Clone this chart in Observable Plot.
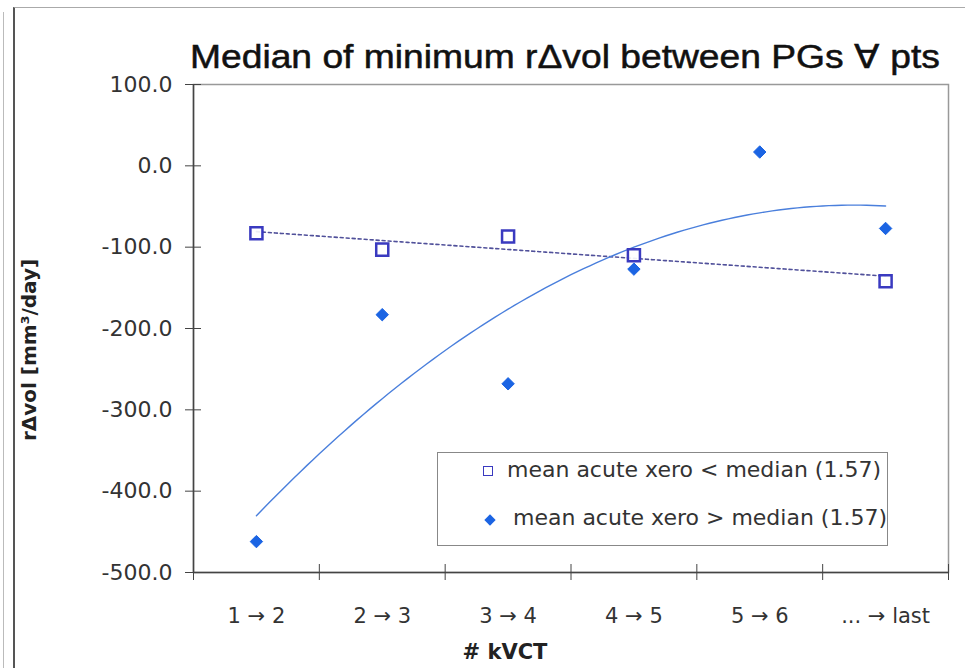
<!DOCTYPE html>
<html><head><meta charset="utf-8">
<script src="https://cdn.jsdelivr.net/npm/d3@7"></script>
<script src="https://cdn.jsdelivr.net/npm/@observablehq/plot@0.6"></script>
<style>
body{margin:0;background:#fff;font-family:"DejaVu Sans",Verdana,sans-serif;color:#222;}
#wrap{position:relative;width:965px;height:668px;overflow:hidden;background:#fff;}
#edge1{position:absolute;left:3px;top:12px;width:0;height:660px;border-left:1px solid #bbb;}
#edge2{position:absolute;left:13px;top:7px;width:960px;height:670px;border-left:2px solid #555;border-top:1px solid #aaa;}
#title{position:absolute;left:190px;top:40px;font-family:"Liberation Sans",Arial,sans-serif;font-size:33px;line-height:1;white-space:nowrap;color:#111;transform-origin:left top;-webkit-text-stroke:0.5px #111;}
#chart{position:absolute;left:0;top:70px;}
#ylabel{position:absolute;left:29px;top:350px;transform:translate(-50%,-50%) rotate(-90deg);font-weight:bold;font-size:20px;line-height:1;white-space:nowrap;color:#222;}
#xlabel{position:absolute;left:505px;top:652px;transform:translate(-50%,-50%);font-weight:bold;font-size:21px;line-height:1;white-space:nowrap;color:#222;}
#legend{position:absolute;left:437px;top:452px;width:449px;height:92px;border:1.5px solid #888;background:#fff;font-size:22px;line-height:1;color:#333;}
.item{position:absolute;white-space:nowrap;}
.sq{position:absolute;width:8px;height:8px;border:1.5px solid #3a3ac0;background:#fff;}
.dm{position:absolute;width:8px;height:8px;background:#1b64e3;transform:rotate(45deg);}
</style></head><body>
<div id="wrap">
  <div id="edge1"></div><div id="edge2"></div>
  <div id="title">Median of minimum rΔvol between PGs ∀ pts</div>
  <div id="chart"></div>
  <div id="ylabel">rΔvol [mm³/day]</div>
  <div id="xlabel"># kVCT</div>
  <div id="legend">
    <div class="sq" style="left:45px;top:13px;"></div>
    <div class="item" style="left:69px;top:6px;">mean acute xero &lt; median (1.57)</div>
    <div class="dm" style="left:48px;top:63px;"></div>
    <div class="item" style="left:75px;top:54px;">mean acute xero &gt; median (1.57)</div>
  </div>
</div>
<script>
// ---- data ----
const categories = ["1 → 2", "2 → 3", "3 → 4", "4 → 5", "5 → 6", "... → last"];
const belowMedian = [-83, -103, -87, -110, null, -142];   // hollow squares
const aboveMedian = [-462, -183, -268, -127, 17, -77];    // filled diamonds
const yTicks = [100, 0, -100, -200, -300, -400, -500];
const yDomain = [-500, 100];

// ---- build tables ----
const idx = categories.map((c, i) => i + 1);
const xDomain = [0.5, categories.length + 0.5];
const bounds = d3.range(xDomain[0], xDomain[1] + 0.01, 1);
const sqData = idx.map((x, i) => ({x, y: belowMedian[i]})).filter(d => d.y != null);
const dmData = idx.map((x, i) => ({x, y: aboveMedian[i]}));

// least-squares polynomial fit (trend lines like the spreadsheet's)
function polyfit(pts, deg) {
  const n = deg + 1;
  const A = Array.from({length: n}, () => Array(n + 1).fill(0));
  for (const {x, y} of pts) {
    for (let r = 0; r < n; r++) {
      for (let c = 0; c < n; c++) A[r][c] += Math.pow(x, r + c);
      A[r][n] += y * Math.pow(x, r);
    }
  }
  for (let i = 0; i < n; i++) {
    let p = i;
    for (let k = i + 1; k < n; k++) if (Math.abs(A[k][i]) > Math.abs(A[p][i])) p = k;
    [A[i], A[p]] = [A[p], A[i]];
    for (let k = i + 1; k < n; k++) {
      const f = A[k][i] / A[i][i];
      for (let c = i; c <= n; c++) A[k][c] -= f * A[i][c];
    }
  }
  const b = Array(n).fill(0);
  for (let i = n - 1; i >= 0; i--) {
    let s = A[i][n];
    for (let c = i + 1; c < n; c++) s -= A[i][c] * b[c];
    b[i] = s / A[i][i];
  }
  return x => b.reduce((acc, bi, i) => acc + bi * Math.pow(x, i), 0);
}
const linFit = polyfit(sqData, 1);
const quadFit = polyfit(dmData, 2);
const xs = d3.range(1, categories.length + 0.001, 0.05);
const linTrend = xs.map(x => ({x, y: linFit(x)}));
const quadTrend = xs.map(x => ({x, y: quadFit(x)}));

const font = "DejaVu Sans, Verdana, sans-serif";
const chart = Plot.plot({
  width: 965,
  height: 598,
  marginLeft: 193,
  marginRight: 17,
  marginTop: 14,
  marginBottom: 96,
  style: {fontFamily: font, background: "transparent", overflow: "visible"},
  x: {domain: xDomain},
  y: {domain: yDomain},
  marks: [
    Plot.frame({stroke: "#999", strokeWidth: 1.5}),
    // y axis: labels + crossing ticks
    Plot.axisY({ticks: yTicks, tickFormat: d => d.toFixed(1), tickSize: 0, tickPadding: 21, fontSize: 22, fill: "#333", label: null}),
    Plot.axisY({ticks: yTicks, tickFormat: () => "", tickSize: 16, dx: 8, stroke: "#444", label: null}),
    // x axis: category labels at centres + crossing boundary ticks
    Plot.axisX({ticks: idx, tickFormat: i => categories[i - 1], tickSize: 0, tickPadding: 36, fontSize: 21, fill: "#333", label: null}),
    Plot.axisX({ticks: bounds, tickFormat: () => "", tickSize: 16, dy: -8, stroke: "#444", label: null}),
    Plot.ruleX([xDomain[0]], {stroke: "#444", strokeWidth: 1.5}),
    Plot.ruleY([yDomain[0]], {stroke: "#444", strokeWidth: 1.5}),
    // trend lines
    Plot.line(linTrend, {x: "x", y: "y", stroke: "#50509a", strokeWidth: 1.6, strokeDasharray: "3,3"}),
    Plot.line(quadTrend, {x: "x", y: "y", stroke: "#4a7fdc", strokeWidth: 1.4}),
    // points
    Plot.dot(dmData, {x: "x", y: "y", symbol: "diamond2", r: 5.6, fill: "#1b64e3", stroke: "#1b64e3", strokeWidth: 1}),
    Plot.dot(sqData, {x: "x", y: "y", symbol: "square", r: 6.8, fill: "white", fillOpacity: 0.9, stroke: "#3a3ac0", strokeWidth: 2.5})
  ]
});
document.getElementById("chart").appendChild(chart);

// stretch the title across the plot width like the reference
const t = document.getElementById("title");
t.style.transform = `scaleX(${750 / t.offsetWidth})`;
</script>
</body></html>
